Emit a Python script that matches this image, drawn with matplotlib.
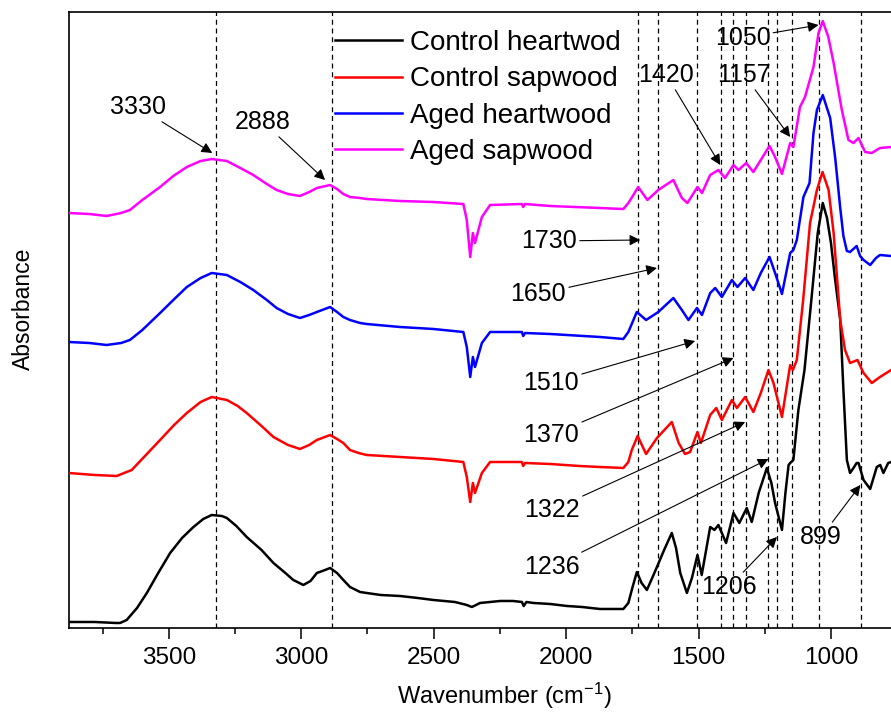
import matplotlib
matplotlib.use('Agg')
import matplotlib.pyplot as plt
from matplotlib.ticker import MultipleLocator

plt.rcParams['font.family'] = ['Liberation Sans', 'DejaVu Sans']
plt.rcParams['mathtext.default'] = 'regular'

# Spectra (wavenumber, offset absorbance)
wn_ch = [3878, 3780, 3700, 3684, 3659, 3620, 3583, 3540, 3495, 3450, 3407, 3370, 3338, 3300, 3281,
         3245, 3206, 3150, 3105, 3060, 3030, 2992, 2965, 2941, 2910, 2891, 2865, 2841, 2816, 2778,
         2753, 2700, 2627, 2560, 2501, 2420, 2375, 2356, 2340, 2325, 2249, 2200, 2167, 2160, 2150,
         2123, 2060, 1997, 1940, 1872, 1784, 1765, 1750, 1733, 1715, 1695, 1675, 1657, 1630, 1601,
         1585, 1569, 1544, 1525, 1504, 1488, 1470, 1456, 1440, 1425, 1396, 1368, 1346, 1318, 1299,
         1273, 1242, 1225, 1211, 1185, 1172, 1160, 1154, 1142, 1123, 1100, 1073, 1050, 1031, 1015,
         1000, 985, 965, 953, 940, 928, 915, 903, 896, 877, 852, 827, 814, 802, 784, 772]
ab_ch = [0.06, 0.06, 0.05, 0.05, 0.08, 0.20, 0.35, 0.55, 0.75, 0.90, 1.01, 1.09, 1.13, 1.12, 1.10,
         1.02, 0.91, 0.78, 0.65, 0.55, 0.48, 0.43, 0.47, 0.55, 0.58, 0.60, 0.55, 0.48, 0.41, 0.36,
         0.35, 0.33, 0.32, 0.30, 0.28, 0.26, 0.23, 0.21, 0.23, 0.25, 0.27, 0.27, 0.26, 0.22, 0.26,
         0.25, 0.24, 0.22, 0.21, 0.19, 0.19, 0.25, 0.40, 0.56, 0.45, 0.38, 0.50, 0.61, 0.78, 0.95,
         0.80, 0.55, 0.35, 0.50, 0.73, 0.53, 0.80, 1.01, 0.98, 1.03, 0.85, 1.15, 1.05, 1.20, 1.06,
         1.35, 1.60, 1.45, 1.25, 0.98, 1.35, 1.63, 1.65, 1.68, 2.18, 2.58, 3.31, 3.95, 4.25, 4.10,
         3.85, 3.50, 3.08, 2.38, 1.68, 1.55, 1.60, 1.65, 1.65, 1.48, 1.39, 1.61, 1.63, 1.55, 1.65, 1.66]

wn_cs = [3878, 3780, 3697, 3640, 3590, 3533, 3480, 3432, 3380, 3338, 3281, 3240, 3206, 3150, 3105,
         3050, 3005, 2970, 2941, 2891, 2865, 2841, 2816, 2784, 2753, 2627, 2501, 2388, 2375, 2362,
         2352, 2344, 2318, 2287, 2167, 2162, 2155, 2060, 1950, 1872, 1784, 1765, 1752, 1730, 1698,
         1657, 1601, 1575, 1551, 1532, 1504, 1491, 1456, 1433, 1412, 1374, 1355, 1324, 1293, 1265,
         1236, 1217, 1185, 1154, 1144, 1129, 1105, 1079, 1053, 1032, 1009, 990, 965, 947, 928,
         900, 877, 846, 815, 773]
ab_cs = [1.55, 1.53, 1.52, 1.58, 1.72, 1.88, 2.03, 2.15, 2.26, 2.31, 2.28, 2.22, 2.15, 2.02, 1.91,
         1.83, 1.79, 1.83, 1.88, 1.93, 1.89, 1.85, 1.78, 1.75, 1.73, 1.71, 1.69, 1.66, 1.51, 1.26,
         1.45, 1.35, 1.55, 1.66, 1.66, 1.62, 1.65, 1.64, 1.62, 1.61, 1.60, 1.66, 1.78, 1.92, 1.74,
         1.90, 2.06, 1.85, 1.74, 1.76, 1.96, 1.85, 2.13, 2.20, 2.08, 2.28, 2.20, 2.31, 2.16, 2.35,
         2.58, 2.45, 2.11, 2.63, 2.58, 2.68, 3.28, 4.05, 4.38, 4.56, 4.38, 3.95, 3.08, 2.78, 2.65,
         2.68, 2.55, 2.45, 2.51, 2.58]

wn_ah = [3878, 3800, 3735, 3680, 3647, 3600, 3533, 3483, 3432, 3380, 3338, 3281, 3230, 3181, 3130,
         3093, 3050, 3005, 2970, 2941, 2891, 2865, 2841, 2816, 2778, 2753, 2627, 2501, 2388, 2375,
         2362, 2352, 2344, 2318, 2287, 2167, 2162, 2155, 2060, 1872, 1784, 1765, 1733, 1698, 1652,
         1595, 1563, 1538, 1506, 1487, 1456, 1437, 1412, 1374, 1353, 1324, 1293, 1265, 1232, 1211,
         1185, 1154, 1142, 1129, 1104, 1081, 1066, 1053, 1031, 1003, 984, 965, 953, 940, 928,
         903, 890, 877, 852, 830, 815, 773]
ab_ah = [2.86, 2.85, 2.83, 2.85, 2.88, 2.98, 3.15, 3.28, 3.41, 3.50, 3.55, 3.53, 3.46, 3.38, 3.28,
         3.20, 3.14, 3.10, 3.13, 3.16, 3.21, 3.16, 3.11, 3.08, 3.05, 3.04, 3.01, 2.99, 2.96, 2.81,
         2.51, 2.71, 2.61, 2.85, 2.96, 2.96, 2.92, 2.95, 2.94, 2.91, 2.89, 2.96, 3.16, 3.08, 3.16,
         3.30, 3.18, 3.08, 3.20, 3.13, 3.35, 3.40, 3.31, 3.48, 3.41, 3.50, 3.38, 3.55, 3.71, 3.55,
         3.34, 3.75, 3.78, 3.88, 4.31, 4.45, 4.95, 5.18, 5.33, 5.10, 4.70, 4.20, 3.92, 3.77, 3.76,
         3.82, 3.72, 3.68, 3.63, 3.70, 3.73, 3.72]

wn_as = [3878, 3800, 3735, 3680, 3647, 3600, 3533, 3483, 3432, 3380, 3338, 3281, 3230, 3181, 3130,
         3093, 3050, 3005, 2970, 2941, 2891, 2865, 2841, 2816, 2778, 2753, 2627, 2501, 2388, 2375,
         2362, 2352, 2344, 2318, 2287, 2167, 2162, 2155, 2060, 1872, 1784, 1765, 1746, 1728, 1693,
         1652, 1595, 1563, 1542, 1504, 1487, 1456, 1425, 1400, 1368, 1349, 1320, 1293, 1265, 1232,
         1211, 1185, 1154, 1142, 1117, 1098, 1066, 1047, 1031, 1010, 990, 959, 934, 915, 896,
         871, 846, 815, 773]
ab_as = [4.15, 4.14, 4.12, 4.15, 4.18, 4.28, 4.41, 4.52, 4.61, 4.67, 4.69, 4.67, 4.60, 4.53, 4.44,
         4.38, 4.34, 4.32, 4.36, 4.40, 4.43, 4.39, 4.34, 4.31, 4.30, 4.29, 4.27, 4.26, 4.24, 4.08,
         3.71, 3.95, 3.85, 4.11, 4.23, 4.24, 4.21, 4.24, 4.22, 4.20, 4.19, 4.25, 4.33, 4.41, 4.28,
         4.38, 4.48, 4.30, 4.25, 4.41, 4.35, 4.53, 4.58, 4.50, 4.63, 4.58, 4.65, 4.56, 4.68, 4.82,
         4.71, 4.54, 4.85, 4.81, 5.21, 5.31, 5.61, 5.95, 6.07, 5.91, 5.65, 5.18, 4.88, 4.85, 4.90,
         4.76, 4.75, 4.80, 4.81]

# dashed band markers (positions as drawn) and labels
band_lines = [3322, 2885, 1727, 1652, 1505, 1414, 1370, 1319, 1236, 1204, 1149, 1047, 886]

labels = ['3330', '2888', '1050', '1420', '1157', '1730', '1650', '1510', '1370', '1322', '1236', '1206', '899']
label_xy = [(3616, 5.21), (3144, 5.06), (1334, 5.90), (1621, 5.53), (1328, 5.53), (2064, 3.87),
            (2105, 3.34), (2056, 2.45), (2056, 1.93), (2053, 1.18), (2053, 0.61), (1385, 0.41), (1037, 0.91)]
arrow_tip = [(3336, 4.75), (2910, 4.48), (1047, 6.03), (1418, 4.63), (1154, 4.91), (1720, 3.88),
             (1657, 3.60), (1513, 2.87), (1368, 2.70), (1324, 2.06), (1236, 1.69), (1204, 0.91), (889, 1.43)]

fig = plt.figure(figsize=(8.91, 7.15), dpi=100)
ax = fig.add_axes([0.0771, 0.1217, 0.978, 0.8615])

for xv in band_lines:
    ax.axvline(xv, color='black', lw=0.9, ls=(0, (4, 3)), zorder=1)

ax.plot(wn_ch, ab_ch, color='black', lw=1.8, label='Control heartwod', zorder=3)
ax.plot(wn_cs, ab_cs, color='#ff0000', lw=1.8, label='Control sapwood', zorder=3)
ax.plot(wn_ah, ab_ah, color='#0000ff', lw=1.8, label='Aged heartwood', zorder=3)
ax.plot(wn_as, ab_as, color='#ff00ff', lw=1.8, label='Aged sapwood', zorder=3)

for txt, pos, tip in zip(labels, label_xy, arrow_tip):
    ax.annotate(txt, xy=tip, xytext=pos, ha='center', va='center', fontsize=18,
                arrowprops=dict(arrowstyle='-|>', color='black', lw=0.8,
                                mutation_scale=16, shrinkA=0, shrinkB=0))

ax.set_xlim(3878, 588)
ax.set_ylim(0, 6.16)
ax.xaxis.set_major_locator(MultipleLocator(500))
ax.xaxis.set_minor_locator(MultipleLocator(250))
ax.tick_params(axis='x', which='major', direction='out', length=8, width=1.1, labelsize=17.5, pad=6)
ax.tick_params(axis='x', which='minor', direction='out', length=4.5, width=1.1)
ax.set_yticks([])
for s in ['left', 'top', 'bottom']:
    ax.spines[s].set_linewidth(1.2)
ax.spines['right'].set_visible(False)

ax.set_xlabel('Wavenumber (cm$^{-1}$)', fontsize=17)
ax.set_ylabel('Absorbance', fontsize=16.5)
ax.xaxis.set_label_coords(0.5, -0.085)
ax.yaxis.set_label_coords(-0.039, 0.518)

ax.legend(loc='upper left', bbox_to_anchor=(0.376, 0.958), bbox_transform=fig.transFigure,
          frameon=False, fontsize=20, handlelength=2.4, handletextpad=0.3,
          borderpad=0, borderaxespad=0, labelspacing=0.37)

fig.savefig('out.png', dpi=100)
